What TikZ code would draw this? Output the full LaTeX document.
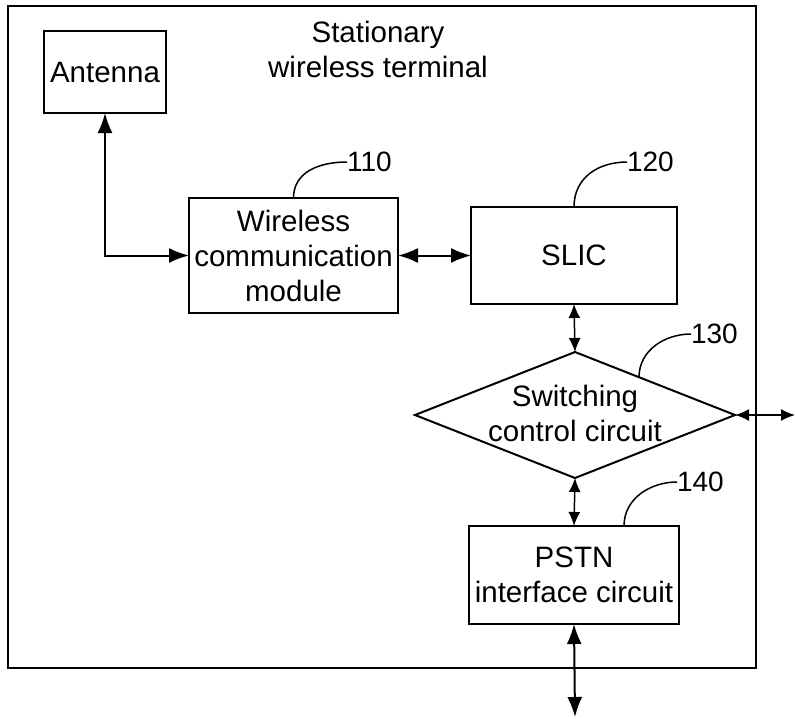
\documentclass[tikz,border=0pt]{standalone}
\usepackage{fontspec}
\setmainfont{Liberation Sans}
\usetikzlibrary{shapes.geometric,arrows.meta,calc}
\begin{document}
\begin{tikzpicture}[x=1pt,y=-1pt,
  box/.style={draw,line width=2pt,inner sep=0pt,outer sep=0pt,align=center,font=\fontsize{29.5}{35}\selectfont},
  txt/.style={inner sep=0pt,outer sep=0pt,align=center,font=\fontsize{29.5}{35}\selectfont},
  lbl/.style={inner sep=0pt,outer sep=0pt,font=\fontsize{28}{32}\selectfont},
  big/.style={line width=2pt,{Latex[length=20pt,width=15pt]}-{Latex[length=20pt,width=15pt]}},
  sml/.style={line width=1.5pt,{Latex[length=14pt,width=12pt]}-{Latex[length=14pt,width=12pt]}},
  lead/.style={line width=1.5pt}]
\useasboundingbox (0,0) rectangle (795,718);
\fill[white] (0,0) rectangle (795,718);
% frame
\node[draw,line width=2.5pt,inner sep=0pt,outer sep=0pt,minimum width=748pt,minimum height=662pt] (frame) at (382,337) {};
\node[txt] (title) at (378,49) {Stationary\\wireless terminal};
% boxes
\node[box,minimum width=122pt,minimum height=82pt] (ant) at (105,72) {Antenna};
\node[box,minimum width=209pt,minimum height=115pt] (wcm) at (293.5,255.5) {Wireless\\communication\\module};
\node[box,minimum width=206pt,minimum height=97pt] (slic) at (574,255.5) {SLIC};
\node[draw,shape=diamond,line width=2pt,inner sep=0pt,outer sep=0pt,minimum width=320pt,minimum height=126pt] (dia) at (575,415) {};
\node[txt] (diatext) at (575,413) {Switching\\control circuit};
\node[box,minimum width=210pt,minimum height=98pt] (pstn) at (574,575) {PSTN\\interface circuit};
% free ends
\coordinate (rightend) at (795,415);
\coordinate (bottomend) at (575,717);
% connectors
\draw[big] (ant.south) |- (wcm.west);
\draw[big] (wcm.east) -- (slic.west);
\draw[sml] (slic.south) -- (dia.north);
\draw[sml] (dia.south) -- (pstn.north);
\draw[sml] (dia.east) -- (rightend);
\draw[big] (pstn.south) -- (bottomend);
% reference labels
\node[lbl,anchor=west] (l110) at (347,162) {110};
\node[lbl,anchor=west] (l120) at (627,162) {120};
\node[lbl,anchor=west] (l130) at (691,334) {130};
\node[lbl,anchor=west] (l140) at (677,482) {140};
\draw[lead] (wcm.north) .. controls ($(wcm.north)+(0,-26)$) and ($(l110.west)+(-28,0)$) .. (l110.west);
\draw[lead] (slic.north) .. controls ($(slic.north)+(0,-30)$) and ($(l120.west)+(-28,0)$) .. (l120.west);
\coordinate (d130) at ($(dia.north)!0.4!(dia.east)$);
\draw[lead] (d130) .. controls ($(d130)+(0,-27)$) and ($(l130.west)+(-26,0)$) .. (l130.west);
\coordinate (p140) at ($(pstn.north)+(50,0)$);
\draw[lead] (p140) .. controls ($(p140)+(0,-28)$) and ($(l140.west)+(-26,0)$) .. (l140.west);
\end{tikzpicture}
\end{document}
